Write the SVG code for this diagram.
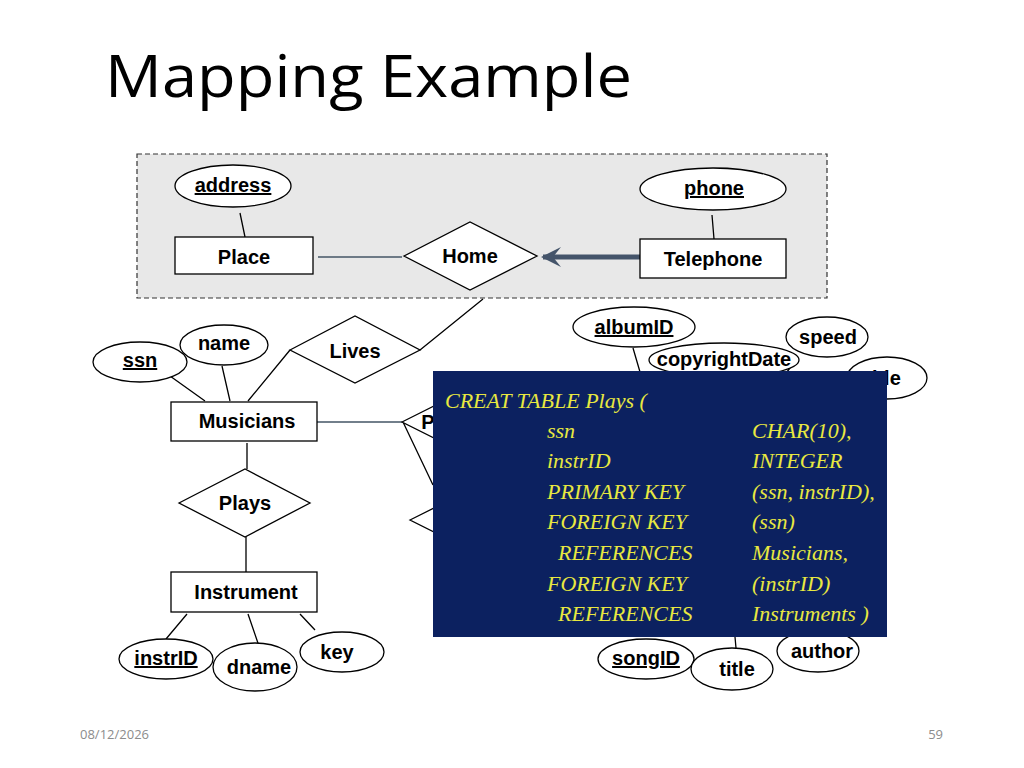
<svg xmlns="http://www.w3.org/2000/svg" width="1024" height="768" viewBox="0 0 1024 768">
<style>
.s{fill:#fff;stroke:#000;stroke-width:1.3}
.t{font-family:"Liberation Sans",Arial,sans-serif;font-weight:bold;font-size:20px;text-anchor:middle;fill:#000}
.u{text-decoration:underline}
.l{stroke:#000;stroke-width:1.3;fill:none}
.y{font-family:"Liberation Serif",serif;font-style:italic;font-size:22px;fill:#e8e840}
</style>
<defs><marker id="ah" viewBox="0 0 10 10" refX="9" refY="5" markerWidth="4" markerHeight="4" orient="auto"><path d="M10,0 L0,5 L10,10 L6,5 Z" fill="#44546a" transform="rotate(180 5 5)"/></marker></defs>
<rect width="1024" height="768" fill="#fff"/>
<text x="105" y="97" font-family="'Open Sans',sans-serif" font-size="58" fill="#000" textLength="527" lengthAdjust="spacingAndGlyphs">Mapping Example</text>
<rect x="137" y="154" width="690" height="144" fill="#e8e8e8" stroke="#333" stroke-width="1.2" stroke-dasharray="5,3"/>
<g id="connectors">
<path class="l" d="M240,213 L245,237 M712,215 L714,239 M483,299 L420,350 M170,376 L205,401 M222,366 L230,401 M290,350 L248,401 M247,443 L247,469 M246,537 L246,572 M187,614 L166,639 M248,614 L260,649 M300,614 L315,630 M403,422 L433,485 M633,348 L640,372 M797,358 L787,372 M735,637 L736,648"/>
<path d="M318,257 L402,257 M317,422 L402,422" stroke="#445566" stroke-width="1.5"/>
<path d="M640,257 L543,257" stroke="#44546a" stroke-width="5" marker-end="url(#ah)"/>
</g>
<g id="address"><ellipse class="s" cx="233" cy="186" rx="58" ry="21"/><text class="t u" x="233" y="192">address</text></g>
<g id="Place"><rect class="s" x="175" y="237" width="138" height="37"/><text class="t" x="244" y="264">Place</text></g>
<g id="Home"><path class="s" d="M404,256 L470,222 L537,256 L470,290 Z"/><text class="t" x="470" y="263">Home</text></g>
<g id="Telephone"><rect class="s" x="640" y="239" width="146" height="39"/><text class="t" x="713" y="266">Telephone</text></g>
<g id="phone"><ellipse class="s" cx="713" cy="189" rx="73" ry="21"/><text class="t u" x="714" y="195">phone</text></g>
<g id="Lives"><path class="s" d="M290,350 L355,316 L420,350 L355,383 Z"/><text class="t" x="355" y="358">Lives</text></g>
<g id="ssn"><ellipse class="s" cx="140" cy="362" rx="47" ry="20"/><text class="t u" x="140" y="367">ssn</text></g>
<g id="name"><ellipse class="s" cx="224" cy="345" rx="44" ry="20"/><text class="t" x="224" y="350">name</text></g>
<g id="Musicians"><rect class="s" x="171" y="402" width="146" height="39"/><text class="t" x="247" y="428">Musicians</text></g>
<g id="P"><path class="s" d="M402,422 L450,398 L498,422 L450,446 Z"/><text class="t" x="428" y="429">P</text></g>
<g id="P2"><path class="s" d="M410,520 L450,500 L490,520 L450,540 Z"/></g>
<g id="Plays"><path class="s" d="M179,503 L245,469 L310,503 L245,537 Z"/><text class="t" x="245" y="510">Plays</text></g>
<g id="Instrument"><rect class="s" x="171" y="572" width="146" height="40"/><text class="t" x="246" y="599">Instrument</text></g>
<g id="instrID"><ellipse class="s" cx="166" cy="659" rx="47" ry="20"/><text class="t u" x="166" y="665">instrID</text></g>
<g id="dname"><ellipse class="s" cx="255" cy="667" rx="42" ry="24"/><text class="t" x="259" y="674">dname</text></g>
<g id="key"><ellipse class="s" cx="342" cy="652" rx="42" ry="20"/><text class="t" x="337" y="659">key</text></g>
<g id="albumID"><ellipse class="s" cx="634" cy="327" rx="61" ry="20"/><text class="t u" x="634" y="334">albumID</text></g>
<g id="copyrightDate"><ellipse class="s" cx="724" cy="360" rx="75" ry="17"/><text class="t" x="724" y="366" font-size="17">copyrightDate</text></g>
<g id="speed"><ellipse class="s" cx="827" cy="337" rx="41" ry="20"/><text class="t" x="828" y="344">speed</text></g>
<g id="title1"><ellipse class="s" cx="887" cy="378" rx="40" ry="21"/><text class="t" x="883" y="385">title</text></g>
<g id="songID"><ellipse class="s" cx="646" cy="659" rx="48" ry="20"/><text class="t u" x="646" y="665">songID</text></g>
<g id="title2"><ellipse class="s" cx="732" cy="669" rx="41" ry="21"/><text class="t" x="737" y="676">title</text></g>
<g id="author"><ellipse class="s" cx="818" cy="651" rx="41" ry="21"/><text class="t" x="822" y="658">author</text></g>
<g id="sql">
<rect x="433" y="371" width="454" height="266" fill="#0c2160"/>
<text class="y" x="445" y="408">CREAT TABLE  Plays (</text>
<text class="y" x="547" y="438">ssn</text><text class="y" x="752" y="438">CHAR(10),</text>
<text class="y" x="547" y="468">instrID</text><text class="y" x="752" y="468">INTEGER</text>
<text class="y" x="547" y="499">PRIMARY KEY</text><text class="y" x="752" y="499">(ssn, instrID),</text>
<text class="y" x="547" y="529">FOREIGN KEY</text><text class="y" x="752" y="529">(ssn)</text>
<text class="y" x="558" y="560">REFERENCES</text><text class="y" x="752" y="560">Musicians,</text>
<text class="y" x="547" y="591">FOREIGN KEY</text><text class="y" x="752" y="591">(instrID)</text>
<text class="y" x="558" y="621">REFERENCES</text><text class="y" x="752" y="621">Instruments )</text>
</g>
<text x="80" y="739" font-family="'Open Sans',sans-serif" font-size="13" fill="#8c8c8c">08/12/2026</text>
<text x="943" y="739" font-family="'Open Sans',sans-serif" font-size="13" fill="#8c8c8c" text-anchor="end">59</text>
</svg>
